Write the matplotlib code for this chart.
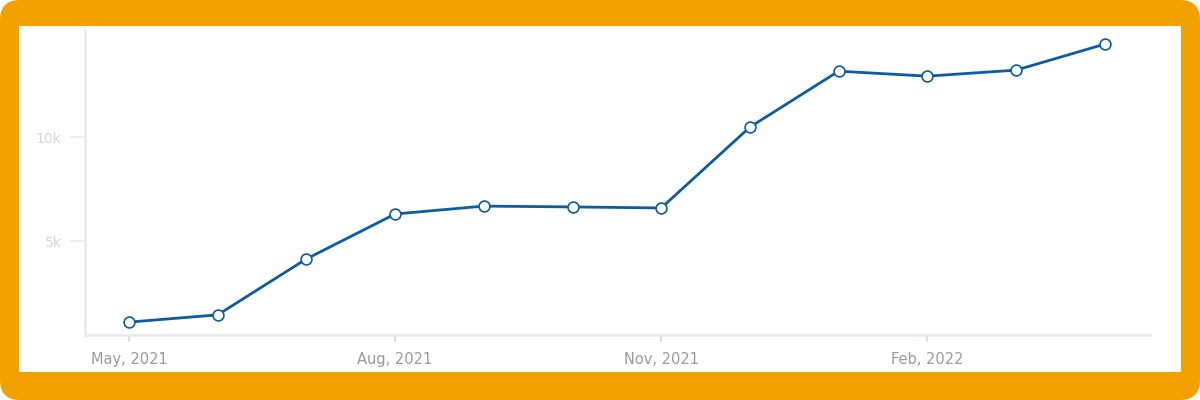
import matplotlib
matplotlib.use("Agg")
import matplotlib.pyplot as plt
from matplotlib.patches import FancyBboxPatch, Rectangle

months = ["2021-05", "2021-06", "2021-07", "2021-08", "2021-09", "2021-10",
          "2021-11", "2021-12", "2022-01", "2022-02", "2022-03", "2022-04"]
values = [1100, 1450, 4140, 6300, 6680, 6640, 6590, 10480, 13170, 12930, 13220, 14470]
xtick_months = ["2021-05", "2021-08", "2021-11", "2022-02"]
xtick_labels = ["May, 2021", "Aug, 2021", "Nov, 2021", "Feb, 2022"]
ytick_values = [5000, 10000]
ytick_labels = ["5k", "10k"]


def month_index(s):
    y, m = s.split("-")
    return (int(y) - 2021) * 12 + int(m) - 5


xs = [month_index(m) for m in months]
xt = [month_index(m) for m in xtick_months]

W, H = 1200, 400
fig = plt.figure(figsize=(12, 4), dpi=100)
fig.patch.set_facecolor("white")

orange = "#F3A100"
bg = fig.add_axes([0, 0, 1, 1], zorder=-5)
bg.set_xlim(0, W)
bg.set_ylim(H, 0)
bg.axis("off")
bg.add_patch(FancyBboxPatch((0, 0), W, H, boxstyle="round,pad=0,rounding_size=20",
                            facecolor=orange, edgecolor="none"))
bg.add_patch(Rectangle((19, 26), 1181 - 19, 372 - 26, facecolor="white", edgecolor="none"))

ax = fig.add_axes([85 / W, (H - 335) / H, (1150 - 85) / W, (335 - 30) / H], zorder=1)
ax.set_facecolor("none")
ax.plot(xs, values, color="#0B5BA5", lw=2.0, marker="o", markersize=7.8,
        markerfacecolor="white", markeredgecolor="#0B5BA5", markeredgewidth=1.2,
        clip_on=False, zorder=3)

ax.set_xlim(-0.496, 11.51)
ax.set_ylim(480, 15150)

for s in ["top", "right"]:
    ax.spines[s].set_visible(False)
for s in ["left", "bottom"]:
    ax.spines[s].set_color("#E8E8EE")
    ax.spines[s].set_linewidth(1.8)

ax.set_xticks(xt)
ax.set_xticklabels(xtick_labels)
ax.tick_params(axis="x", direction="out", length=5, width=1.2, color="#C9D5EA",
               labelcolor="#9A9A9A", labelsize=10.5, pad=7)
ax.set_yticks(ytick_values)
ax.set_yticklabels(ytick_labels)
ax.tick_params(axis="y", direction="out", length=11, width=1.5, color="#EDEDED",
               labelcolor="#D6D6D6", labelsize=10, pad=6)

fig.savefig("out.png", dpi=100)
